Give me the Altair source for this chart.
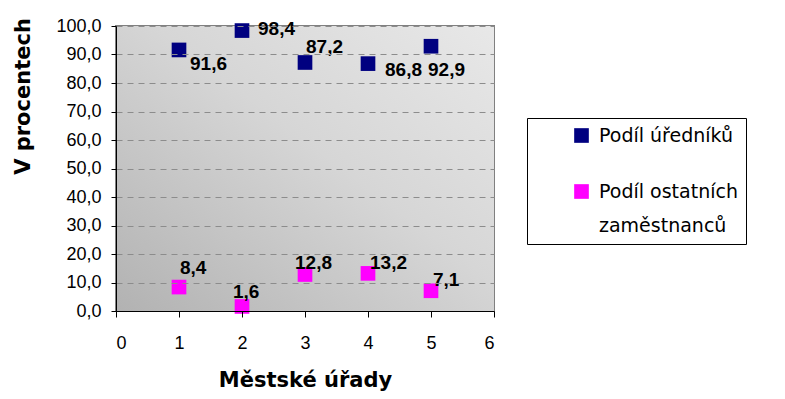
import altair as alt
import pandas as pd

# ---- data ----
offices = [1, 2, 3, 4, 5]
podil_urednici = [91.6, 98.4, 87.2, 86.8, 92.9]
podil_ostatni = [8.4, 1.6, 12.8, 13.2, 7.1]
series_names = ["Podíl úředníků", "Podíl ostatních zaměstnanců"]
series_colors = ["#000080", "#FF00FF"]
y_ticks = [0, 10, 20, 30, 40, 50, 60, 70, 80, 90, 100]
x_ticks = [0, 1, 2, 3, 4, 5, 6]

# label offsets (style, pixels) per point, same order as the data above
off_urednici = [(11, 14), (16, -2), (1, -15), (17, 6), (-3, 24)]
off_ostatni = [(1, -19), (-9, -14), (-10, -12), (2, -10), (2, -11)]

rows = []
for i, x in enumerate(offices):
    rows.append({"x": x, "v": podil_urednici[i], "s": series_names[0], "k": f"a{i}"})
for i, x in enumerate(offices):
    rows.append({"x": x, "v": podil_ostatni[i], "s": series_names[1], "k": f"b{i}"})
df = pd.DataFrame(rows)

W, H = 378, 285
NUM_FONT = "Liberation Sans"
TXT_FONT = "DejaVu Sans"

xscale = alt.Scale(domain=[0, 6], nice=False, zero=False)
yscale = alt.Scale(domain=[0, 100], nice=False)

x_axis = alt.Axis(values=x_ticks, format="d", title="Městské úřady", grid=False,
                  domainColor="#000000", tickColor="#000000", tickSize=6,
                  labelFont=NUM_FONT, labelFontSize=18, labelColor="#000000",
                  labelPadding=17, labelOverlap=False,
                  titleFont=TXT_FONT, titleFontSize=21,
                  titleFontWeight="bold", titleColor="#000000",
                  titlePadding=17, zindex=1)
y_axis = alt.Axis(values=y_ticks, title="V procentech",
                  labelExpr="replace(format(datum.value, '.1f'), '.', ',')",
                  labelOverlap=False,
                  grid=True, gridDash=[6, 5], gridColor="#8c8c8c",
                  domainColor="#000000", tickColor="#000000", tickSize=5,
                  labelFont=NUM_FONT, labelFontSize=18, labelColor="#000000",
                  labelPadding=10, titleFont=TXT_FONT, titleFontSize=21,
                  titleFontWeight="bold", titleColor="#000000",
                  titleX=-93, titleY=70, titleBaseline="middle",
                  titleAlign="center", titleAngle=270, zindex=1)

gradient = alt.LinearGradient(
    gradient="linear",
    stops=[alt.GradientStop(color="#b2b2b2", offset=0),
           alt.GradientStop(color="#d6d6d6", offset=0.55),
           alt.GradientStop(color="#e8e8e8", offset=1)],
    x1=0, y1=1, x2=1, y2=0,
)

bg = alt.Chart(pd.DataFrame({"a": [0]})).mark_rect(color=gradient).encode(
    x=alt.datum(0, scale=xscale, axis=x_axis),
    x2=alt.datum(6),
    y=alt.datum(0, scale=yscale, axis=y_axis),
    y2=alt.datum(100),
)

base = alt.Chart(df)

label_expr = (
    "datum.label == 'Podíl ostatních zaměstnanců' ? "
    "['Podíl ostatních', 'zaměstnanců'] : datum.label"
)

points = base.mark_square(size=215, opacity=1, filled=True).encode(
    x=alt.X("x:Q", scale=xscale, axis=x_axis),
    y=alt.Y("v:Q", scale=yscale, axis=y_axis),
    color=alt.Color("s:N", scale=alt.Scale(domain=series_names, range=series_colors),
                    legend=alt.Legend(
                        title=None, orient="none", legendX=411, legendY=92,
                        symbolType="square", symbolSize=215, symbolStrokeWidth=0,
                        symbolOpacity=1,
                        labelFont=TXT_FONT, labelFontSize=19, labelColor="#000000",
                        labelExpr=label_expr,
                        labelLimit=600, labelOffset=8, symbolOffset=37,
                        padding=8, rowPadding=36,
                        strokeColor="#000000", fillColor="#ffffff",
                    )),
)

labels = []
for key, (dx, dy) in zip([f"a{i}" for i in range(5)] + [f"b{i}" for i in range(5)],
                         off_urednici + off_ostatni):
    labels.append(
        base.transform_filter(alt.datum.k == key)
        .transform_calculate(lbl="replace(format(datum.v, '.1f'), '.', ',')")
        .mark_text(align="left", baseline="middle", dx=dx, dy=dy,
                   font=NUM_FONT, fontSize=19, fontWeight="bold", color="#000000")
        .encode(x=alt.X("x:Q", scale=xscale, axis=x_axis),
                y=alt.Y("v:Q", scale=yscale, axis=y_axis), text="lbl:N")
    )

chart = alt.layer(bg, points, *labels).properties(
    width=W, height=H,
    autosize=alt.AutoSizeParams(type="none"),
    padding={"left": 116, "top": 26, "right": 291, "bottom": 88},
    background="#ffffff",
).configure(
    view=alt.ViewConfig(stroke="#808080", strokeWidth=2),
    style={"guide-label": {"lineHeight": 34}},
)

chart.save("out.html", embed_options={"renderer": "svg", "actions": False})
